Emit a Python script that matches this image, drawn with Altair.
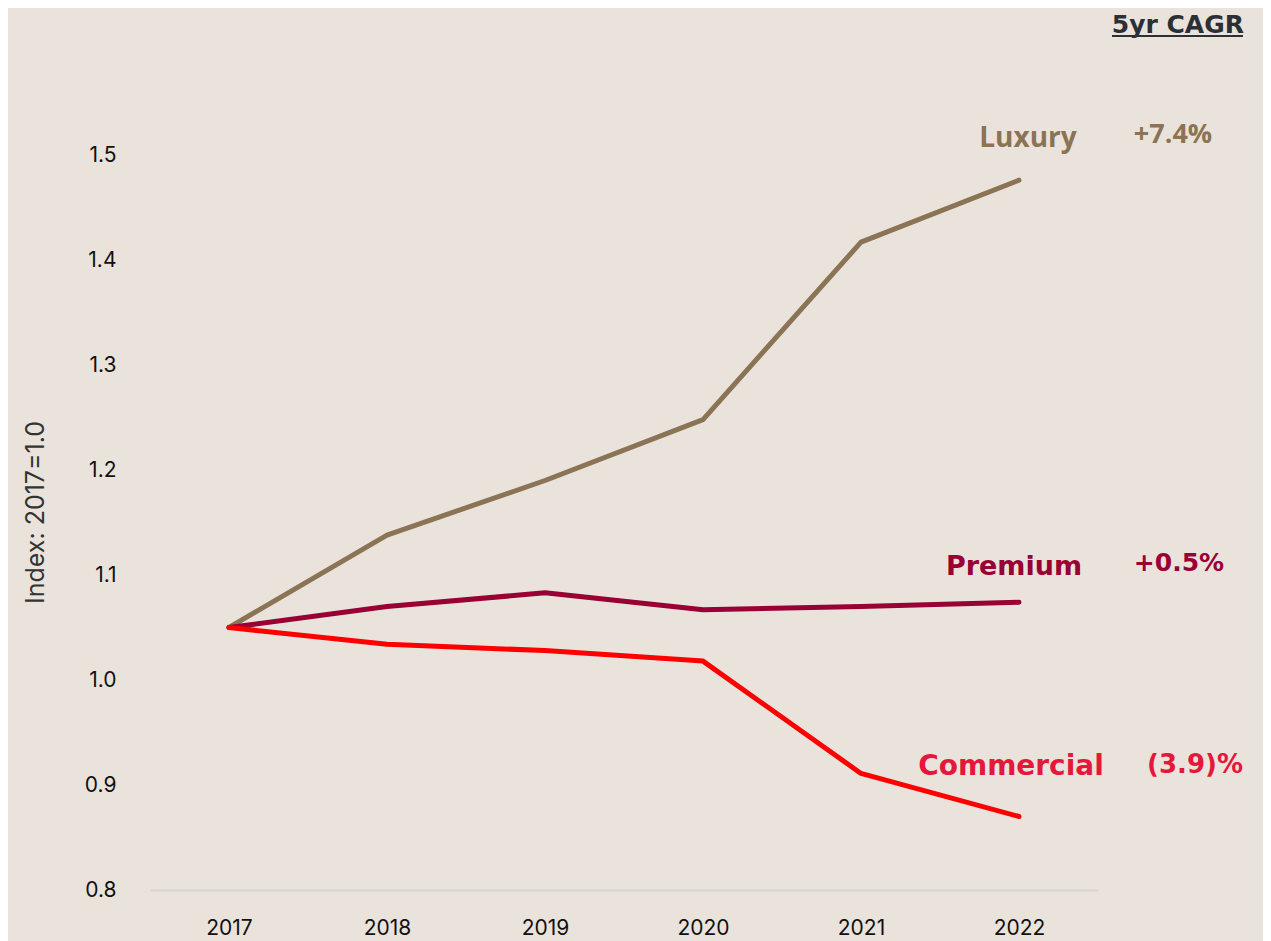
import altair as alt
import pandas as pd

years = ["2017", "2018", "2019", "2020", "2021", "2022"]
series = ["Luxury", "Premium", "Commercial"]
luxury = [1.05, 1.138, 1.19, 1.248, 1.417, 1.476]
premium = [1.05, 1.070, 1.083, 1.067, 1.070, 1.074]
commercial = [1.05, 1.034, 1.028, 1.018, 0.911, 0.870]
cagr = ["+7.4%", "+0.5%", "(3.9)%"]
y_ticks = [0.8, 0.9, 1.0, 1.1, 1.2, 1.3, 1.4, 1.5]

line_colors = ["#8B7355", "#990033", "#FF0000"]
label_colors = ["#8B7355", "#990033", "#E5173A"]
BG = "#EAE3DC"
FONT = "Inter"

rows = []
for name, vals in zip(series, [luxury, premium, commercial]):
    for yr, v in zip(years, vals):
        rows.append({"year": yr, "series": name, "value": v})
df = pd.DataFrame(rows)

x = alt.X("year:O", title=None,
          scale=alt.Scale(type="point", padding=0.5),
          axis=alt.Axis(labelAngle=0, ticks=False, grid=False, domain=True,
                        domainColor="#D8D4CF", domainWidth=2,
                        labelFontSize=21, labelColor="#111111", labelFont=FONT,
                        labelPadding=27))
y = alt.Y("value:Q", title="Index: 2017=1.0",
          scale=alt.Scale(domain=[0.8, 1.6], nice=False, zero=False),
          axis=alt.Axis(values=y_ticks, format=".1f", ticks=False, grid=False,
                        domain=False, labelFontSize=21, labelColor="#111111",
                        labelFont=FONT, labelPadding=34,
                        titleFontSize=25, titleFont=FONT, titleColor="#333333",
                        titleFontWeight="normal", titleX=-115, titleY=462,
                        titleBaseline="middle"))

lines = alt.Chart(df).mark_line(strokeWidth=5, strokeCap="round", strokeJoin="round").encode(
    x=x, y=y,
    color=alt.Color("series:N", scale=alt.Scale(domain=series, range=line_colors), legend=None),
)

layers = [lines]
name_style = [("Open Sans", 28), ("DejaVu Sans", 27), ("DejaVu Sans", 28)]
cagr_style = [("Open Sans", 27), ("DejaVu Sans", 25), ("DejaVu Sans", 26)]
name_offsets = [(9, -41), (-5, -35), (-8, -50)]
cagr_offsets = [(154, -45), (160, -39), (176, -52)]
for i, name in enumerate(series):
    base = alt.Chart(df).transform_filter(
        (alt.datum.series == name) & (alt.datum.year == years[-1])
    )
    layers.append(base.mark_text(fontSize=name_style[i][1], fontWeight="bold", font=name_style[i][0],
                                 color=label_colors[i], align="center", baseline="middle",
                                 dx=name_offsets[i][0], dy=name_offsets[i][1]).encode(
        x="year:O", y="value:Q", text=alt.value(name)))
    layers.append(base.mark_text(fontSize=cagr_style[i][1], fontWeight="bold", font=cagr_style[i][0],
                                 color=label_colors[i], align="center", baseline="middle",
                                 dx=cagr_offsets[i][0], dy=cagr_offsets[i][1]).encode(
        x="year:O", y="value:Q", text=alt.value(cagr[i])))

header_df = pd.DataFrame({"year": [years[-1]], "label": ["5yr CAGR"]})
header = alt.Chart(header_df).mark_text(fontSize=25, fontWeight="bold", font="DejaVu Sans",
                                        color="#2B2F36", align="right", baseline="alphabetic",
                                        dx=225).encode(
    x="year:O", y=alt.value(-17), text="label:N")
underline = alt.Chart(header_df).mark_rule(color="#2B2F36", strokeWidth=2).encode(
    x=alt.value(962), x2=alt.value(1093), y=alt.value(-14))
layers += [header, underline]

chart = alt.layer(*layers).properties(
    width=948, height=840,
    autosize=alt.AutoSizeParams(type="none"),
    padding={"left": 142, "top": 42, "right": 165, "bottom": 51},
    background=BG,
).configure_view(stroke=None, fill=BG)

chart.save("out.html", embed_options={"renderer": "svg", "actions": False})
